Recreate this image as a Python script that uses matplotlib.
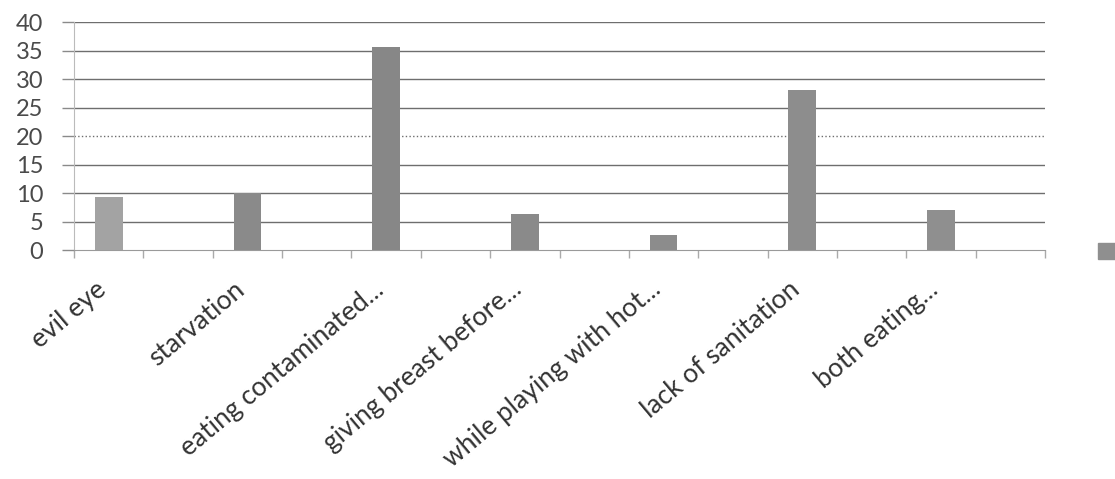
import numpy as np
import matplotlib.pyplot as plt
import matplotlib.transforms as mtransforms
from matplotlib.patches import Patch

# Causes and share of responses (%)
causes = ["evil eye", "starvation", "eating contaminated...", "giving breast before...",
          "while playing with hot...", "lack of sanitation", "both eating..."]
values = [9.3, 10.0, 35.6, 6.4, 2.6, 28.0, 7.1]
bar_colors = ["#a3a3a3", "#8a8a8a", "#878787", "#8a8a8a", "#8c8c8c", "#8d8d8d", "#8f8f8f"]
y_ticks = [0, 5, 10, 15, 20, 25, 30, 35, 40]

plt.rcParams['font.family'] = ['Lato', 'DejaVu Sans']

fig = plt.figure(figsize=(11.15, 4.79), dpi=100)
ax = fig.add_axes([0.0664, 0.478, 0.8708, 0.476])

# every cause takes two category slots, the second one is empty
pos = np.arange(len(causes)) * 2
ax.bar(pos, values, width=0.4, color=bar_colors, zorder=3)

ax.set_xlim(-0.5, 13.5)
ax.set_ylim(0, 40)
ax.set_yticks(y_ticks)
ax.set_yticklabels([str(t) for t in y_ticks], fontsize=17, color="#4a4a4a")

# horizontal gridlines
for t in y_ticks[1:]:
    ls = ":" if t == 20 else "-"
    ax.axhline(t, color="#6e6e6e", linewidth=1.0, linestyle=ls, zorder=1)

ax.tick_params(axis="y", length=9, width=1.0, color="#8a8a8a", pad=13)

# category labels and slot boundary ticks
ax.set_xticks(pos)
ax.set_xticklabels(causes, rotation=40, ha="right", va="center", rotation_mode="anchor",
                   fontsize=19, color="#333333")
ax.tick_params(axis="x", which="major", length=0, pad=26)
shift = mtransforms.ScaledTranslation(-0.06, 0, fig.dpi_scale_trans)
for lbl in ax.get_xticklabels():
    lbl.set_transform(lbl.get_transform() + shift)
ax.set_xticks(np.arange(-0.5, 14, 1), minor=True)
ax.tick_params(axis="x", which="minor", length=6, color="#aaaaaa", width=1.0)

for s in ["top", "right"]:
    ax.spines[s].set_visible(False)
ax.spines["left"].set_color("#bbbbbb")
ax.spines["bottom"].set_color("#9a9a9a")

# legend key sitting at the right edge
fig.legend(handles=[Patch(color="#8f8f8f")], labels=[""], loc="center left",
           bbox_to_anchor=(0.969, 0.475), frameon=False, handlelength=0.9, handleheight=0.9,
           fontsize=14)

fig.savefig("out.png", dpi=100)
